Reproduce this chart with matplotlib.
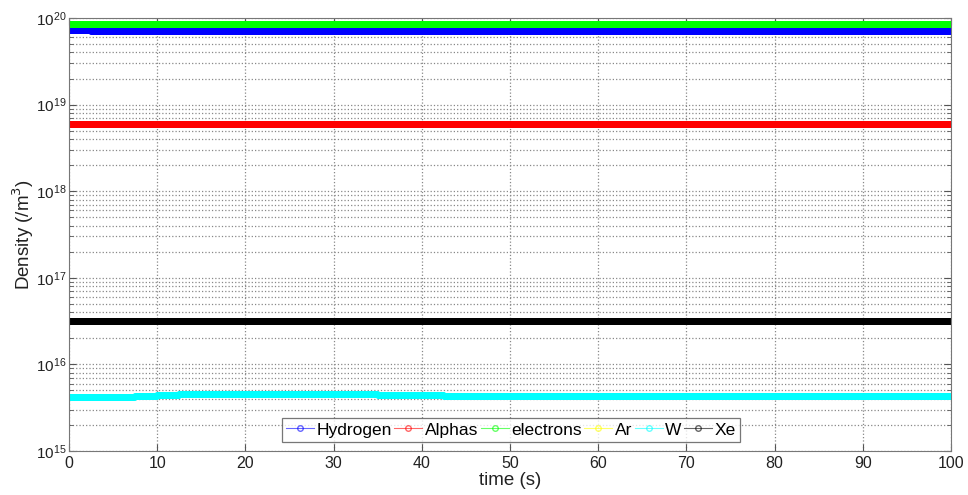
import numpy as np
import matplotlib
matplotlib.use('Agg')
import matplotlib.pyplot as plt

plt.rcParams['font.family'] = ['Liberation Sans', 'DejaVu Sans']

# levels, one per equal time block over 0-100 s
species = ['Hydrogen', 'Alphas', 'electrons', 'Ar', 'W', 'Xe']
colors = ['#0000ff', '#ff0000', '#00ff00', '#ffff00', '#00ffff', '#000000']
hydrogen = [7.2e19] + [7.1e19] * 39
alphas = [6.0e18] * 40
electrons = [8.5e19] * 40
ar = [0.0] * 40  # not visible on the log axis
w = [4.2e15, 4.15e15, 4.2e15, 4.3e15, 4.4e15, 4.5e15, 4.55e15, 4.6e15, 4.6e15, 4.6e15,
     4.55e15, 4.55e15, 4.5e15, 4.5e15, 4.45e15, 4.4e15, 4.4e15, 4.35e15, 4.35e15, 4.35e15,
     4.3e15, 4.3e15, 4.3e15, 4.3e15, 4.3e15, 4.3e15, 4.3e15, 4.3e15, 4.3e15, 4.3e15,
     4.3e15, 4.3e15, 4.3e15, 4.3e15, 4.3e15, 4.3e15, 4.3e15, 4.3e15, 4.3e15, 4.3e15]
xe = [3.2e16] * 40

n_pts = 1000
time = np.linspace(0, 100, n_pts)

fig = plt.figure(figsize=(9.68, 4.95), dpi=100)
ax = fig.add_axes([0.0713, 0.0889, 0.9111, 0.8747])
ax.set_yscale('log', nonpositive='mask')

for name, col, vals in zip(species, colors, [hydrogen, alphas, electrons, ar, w, xe]):
    y = np.repeat(vals, n_pts // len(vals))
    ax.plot(time, y, '-o', color=col, markersize=4, markerfacecolor='none',
            markeredgewidth=1.0, linewidth=0.8, label=name)

ax.set_xlim(0, 100)
ax.set_ylim(1e15, 1e20)
ax.set_xticks(np.arange(0, 101, 10))
ax.tick_params(which='both', direction='in', labelsize=11.5, labelcolor='#222222',
               color='#555555', top=True, right=True)
ax.tick_params(axis='y', labelsize=11, pad=2)
ax.tick_params(which='major', length=5)
ax.tick_params(which='minor', length=3)
ax.grid(True, which='major', linestyle=':', color='#888888', linewidth=0.9)
ax.grid(True, which='minor', axis='y', linestyle=':', color='#888888', linewidth=0.9)
for s in ax.spines.values():
    s.set_color('#777777')

ax.set_xlabel('time (s)', fontsize=13.5, labelpad=1, color='#222222')
ax.set_ylabel('Density (/m$^3$)', fontsize=13.5, color='#222222')
ax.yaxis.set_label_coords(-0.038, 0.5)

leg = ax.legend(loc='lower center', bbox_to_anchor=(0.501, 0.021), ncol=6, fontsize=12.5,
                frameon=True, fancybox=False, handlelength=1.6, handletextpad=0.15,
                columnspacing=0.15, borderpad=0.25, borderaxespad=0)
leg.get_frame().set_edgecolor('#555555')
leg.get_frame().set_linewidth(0.9)
for h in leg.get_lines():
    h.set_alpha(0.6)
    h.set_markersize(4)

fig.savefig('out.png', dpi=100, facecolor='white')
